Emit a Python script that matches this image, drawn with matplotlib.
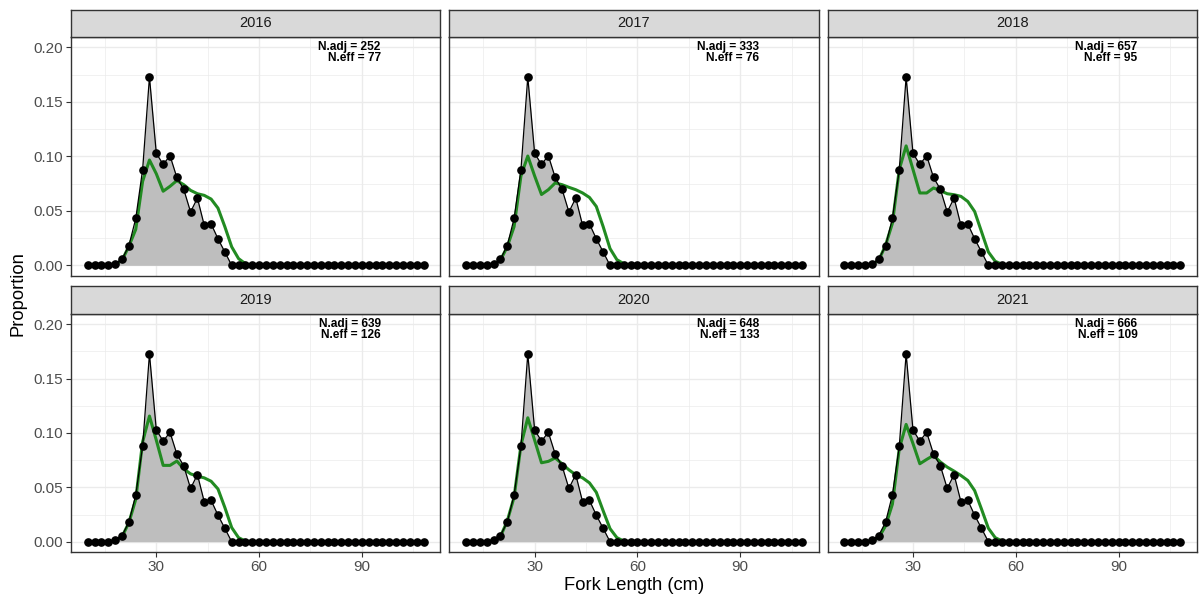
import numpy as np
import matplotlib.pyplot as plt
from matplotlib.ticker import MultipleLocator

plt.rcParams['font.family'] = ['Liberation Sans', 'DejaVu Sans']

# length bins (cm)
length = np.arange(10, 110, 2)

# observed proportions, same composition in every year
obs_nonzero = [0.0, 0.0, 0.0, 0.0, 0.0015, 0.0056, 0.018, 0.043, 0.0877,
               0.1728, 0.1028, 0.0926, 0.1006, 0.0806, 0.0698, 0.049, 0.0617,
               0.0367, 0.038, 0.0244, 0.0123]
obs = np.zeros(len(length))
obs[:len(obs_nonzero)] = obs_nonzero

years = ['2016', '2017', '2018', '2019', '2020', '2021']
n_adj = [252, 333, 657, 639, 648, 666]
n_eff = [77, 76, 95, 126, 133, 109]

# expected proportions, bins 18..56 cm
exp_2016 = [0.001, 0.0046, 0.0176, 0.033, 0.077, 0.0966, 0.084, 0.068, 0.0725, 0.0778,
            0.074, 0.0688, 0.0657, 0.0642, 0.0608, 0.0525, 0.0355, 0.017, 0.0062, 0.0015]
exp_2017 = [0.001, 0.0046, 0.017, 0.0355, 0.082, 0.1003, 0.082, 0.065, 0.0694, 0.0756,
            0.074, 0.0716, 0.0694, 0.0664, 0.0623, 0.054, 0.0355, 0.0154, 0.0052, 0.0015]
exp_2018 = [0.001, 0.0046, 0.0185, 0.0386, 0.088, 0.1096, 0.088, 0.0664, 0.0664, 0.071,
            0.0685, 0.0657, 0.0648, 0.0633, 0.0586, 0.0494, 0.0309, 0.0123, 0.0037, 0.001]
exp_2019 = [0.001, 0.0046, 0.0176, 0.039, 0.0918, 0.1156, 0.0934, 0.0702, 0.0702, 0.0742,
            0.067, 0.0624, 0.0603, 0.0587, 0.0556, 0.0485, 0.0315, 0.013, 0.0037, 0.0006]
exp_2020 = [0.001, 0.0046, 0.019, 0.041, 0.0887, 0.114, 0.0934, 0.0726, 0.0739, 0.077,
            0.0717, 0.0661, 0.0615, 0.0587, 0.0541, 0.0454, 0.0284, 0.012, 0.0037, 0.0006]
exp_2021 = [0.0008, 0.0037, 0.0145, 0.0346, 0.0856, 0.1079, 0.0903, 0.0717, 0.0757, 0.0794,
            0.0733, 0.0686, 0.0649, 0.0609, 0.0563, 0.047, 0.03, 0.0124, 0.0037, 0.0006]
expected = [exp_2016, exp_2017, exp_2018, exp_2019, exp_2020, exp_2021]

W, H = 1201, 596
fig = plt.figure(figsize=(W / 100, H / 100), dpi=100)

left, right = 71, 1197
gap = 9
pw = (right - left - 2 * gap) / 3
rows = [(37, 275.7), (314, 552)]  # panel top/bottom in px
strip_h = 27.5

for i, yr in enumerate(years):
    r, c = divmod(i, 3)
    x0 = left + c * (pw + gap)
    top, bot = rows[r]
    ax = fig.add_axes([x0 / W, 1 - bot / H, pw / W, (bot - top) / H])

    e = np.zeros(len(length))
    e[4:4 + len(expected[i])] = expected[i]

    ax.fill_between(length, 0, obs, color='#BEBEBE', lw=0, zorder=2)
    ax.plot(length, e, color='#228B22', lw=2.2, zorder=3)
    ax.plot(length, obs, color='black', lw=0.9, zorder=4)
    ax.plot(length, obs, 'o', color='black', ms=5.2, zorder=5)

    ax.text(95.5, 0.2055, 'N.adj = %d\nN.eff = %d' % (n_adj[i], n_eff[i]),
            ha='right', va='top', fontsize=8.6, fontweight='bold',
            linespacing=0.8, multialignment='right',
            family=['Liberation Sans Narrow', 'Liberation Sans'], zorder=6)

    ax.set_xlim(5.1, 112.9)
    ax.set_ylim(-0.0095, 0.2095)
    ax.xaxis.set_major_locator(MultipleLocator(30))
    ax.xaxis.set_minor_locator(MultipleLocator(15))
    ax.yaxis.set_major_locator(MultipleLocator(0.05))
    ax.yaxis.set_minor_locator(MultipleLocator(0.025))
    ax.grid(which='major', color='#EBEBEB', lw=1.0, zorder=0)
    ax.grid(which='minor', color='#EBEBEB', lw=0.5, zorder=0)
    ax.set_axisbelow(True)
    for s in ax.spines.values():
        s.set_color('#333333')
        s.set_linewidth(1.0)
    ax.tick_params(which='major', length=3.4, width=0.8, color='#333333',
                   labelsize=11, labelcolor='#4D4D4D', pad=2.2)
    ax.tick_params(which='minor', length=0)
    if c == 0:
        ax.set_yticks([0, 0.05, 0.1, 0.15, 0.2])
        ax.set_yticklabels(['0.00', '0.05', '0.10', '0.15', '0.20'])
    else:
        ax.tick_params(axis='y', labelleft=False, length=0)
    if r == 0:
        ax.tick_params(axis='x', labelbottom=False, length=0)
    else:
        ax.set_xticks([30, 60, 90])
        ax.set_xticklabels(['30', '60', '90'])
    ax.set_xlim(5.1, 112.9)
    ax.set_ylim(-0.0095, 0.2095)

    # facet strip
    sax = fig.add_axes([x0 / W, 1 - top / H, pw / W, strip_h / H])
    sax.set_facecolor('#D9D9D9')
    sax.set_xticks([])
    sax.set_yticks([])
    for s in sax.spines.values():
        s.set_color('#333333')
        s.set_linewidth(1.0)
    sax.text(0.5, 0.5, yr, ha='center', va='center', fontsize=10.5,
             color='#1A1A1A', transform=sax.transAxes)

fig.text((left + right) / 2 / W, 1 - 585 / H, 'Fork Length (cm)',
         ha='center', va='center', fontsize=13.2)
fig.text(18 / W, 1 - 294 / H, 'Proportion', ha='center', va='center',
         rotation=90, fontsize=13.2)

fig.savefig('out.png', dpi=100)
